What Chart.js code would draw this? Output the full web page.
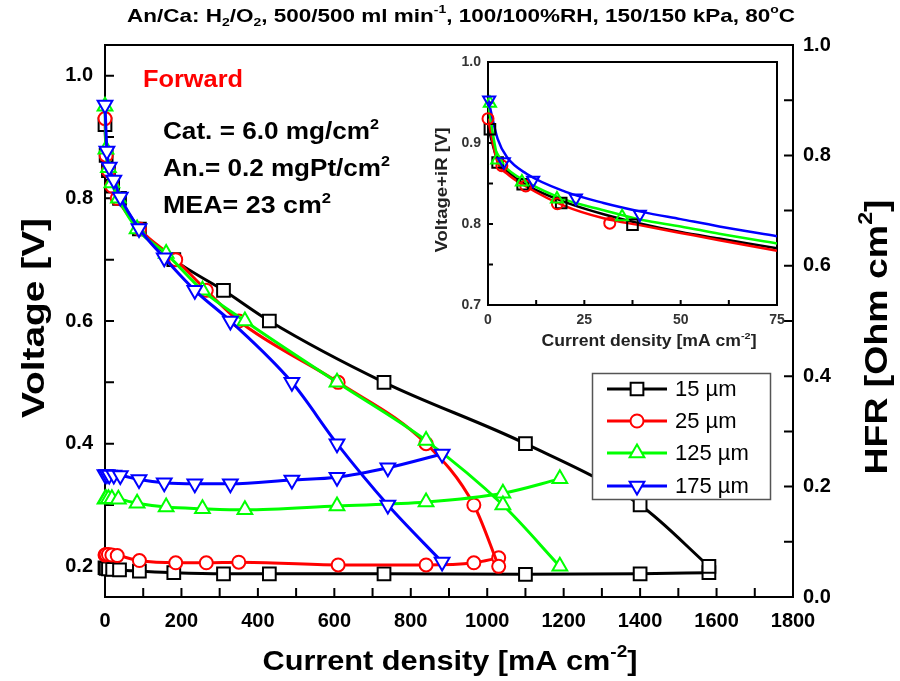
<!DOCTYPE html>
<html>
<head>
<meta charset="utf-8">
<script src="https://cdn.jsdelivr.net/npm/chart.js@4.4.0/dist/chart.umd.min.js"></script>
<style>
  body { margin: 0; background: #fff; }
  #wrap { position: relative; width: 900px; height: 681px; }
  #main { position: absolute; left: 0; top: 0; }
  #inset { position: absolute; left: 420px; top: 45px; }
</style>
</head>
<body>
<div id="wrap">
  <canvas id="main" width="900" height="681"></canvas>
  <canvas id="inset" width="372" height="310"></canvas>
</div>
<script>
// membrane thickness labels
const labels = ['15 µm', '25 µm', '125 µm', '175 µm'];

// main plot: current density [mA cm-2], voltage [V], HFR [Ohm cm2]
const current15 = [0, 3, 9, 20, 38, 90, 180, 310, 430, 730, 1100, 1400, 1580];
const voltage15 = [0.92, 0.87, 0.845, 0.82, 0.80, 0.75, 0.70, 0.65, 0.60, 0.50, 0.40, 0.30, 0.20];
const hfr15 = [0.053, 0.052, 0.051, 0.05, 0.049, 0.047, 0.044, 0.042, 0.042, 0.042, 0.041, 0.042, 0.044];

const current25 = [0, 3, 9, 18, 32, 90, 185, 265, 350, 610, 840, 965, 1030];
const voltage25 = [0.93, 0.87, 0.845, 0.82, 0.80, 0.75, 0.70, 0.65, 0.60, 0.50, 0.40, 0.30, 0.20];
const hfr25 = [0.076, 0.077, 0.077, 0.076, 0.075, 0.066, 0.062, 0.062, 0.063, 0.058, 0.058, 0.062, 0.071];

const current125 = [0, 2.5, 9, 18, 35, 84, 160, 255, 366, 607, 840, 1041, 1190];
const voltage125 = [0.95, 0.88, 0.85, 0.825, 0.80, 0.75, 0.71, 0.65, 0.60, 0.50, 0.405, 0.30, 0.20];
const hfr125 = [0.177, 0.178, 0.178, 0.178, 0.177, 0.170, 0.163, 0.160, 0.158, 0.165, 0.172, 0.188, 0.214];

const current175 = [0, 5, 11, 23, 40, 89, 155, 235, 328, 489, 607, 740, 882];
const voltage175 = [0.952, 0.877, 0.851, 0.83, 0.802, 0.751, 0.703, 0.65, 0.60, 0.50, 0.40, 0.30, 0.207];
const hfr175 = [0.222, 0.222, 0.221, 0.221, 0.220, 0.213, 0.207, 0.205, 0.205, 0.212, 0.217, 0.234, 0.259];

// inset: low current region, voltage + iR
const insetCur15 = [0.5, 2.5, 9, 19, 37.5];
const insetV15 = [0.917, 0.876, 0.849, 0.826, 0.799];
const insetCur25 = [0, 3.6, 9.8, 18, 31.6];
const insetV25 = [0.930, 0.872, 0.847, 0.825, 0.801];
const insetCur125 = [0.5, 2.4, 8.8, 17.9, 34.8];
const insetV125 = [0.949, 0.879, 0.852, 0.831, 0.809];
const insetCur175 = [0.3, 4.1, 11.7, 22.8, 39.4];
const insetV175 = [0.953, 0.877, 0.854, 0.832, 0.812];

// inset fit lines
const fitCur = [0, 2.5, 5, 10, 20, 30, 40, 50, 60, 75];
const fit15 = [0.92, 0.878, 0.865, 0.848, 0.827, 0.812, 0.800, 0.790, 0.782, 0.770];
const fit25 = [0.93, 0.876, 0.862, 0.846, 0.822, 0.807, 0.798, 0.789, 0.780, 0.767];
const fit125 = [0.948, 0.882, 0.868, 0.852, 0.830, 0.817, 0.805, 0.797, 0.788, 0.776];
const fit175 = [0.955, 0.905, 0.882, 0.862, 0.840, 0.826, 0.815, 0.806, 0.797, 0.785];

// tick values
const currentTicks = [0, 200, 400, 600, 800, 1000, 1200, 1400, 1600, 1800];
const currentMinor = [100, 300, 500, 700, 900, 1100, 1300, 1500, 1700];
const voltTicks = [0.2, 0.4, 0.6, 0.8, 1.0];
const voltMinor = [0.3, 0.5, 0.7, 0.9];
const hfrTicks = [0, 0.2, 0.4, 0.6, 0.8, 1.0];
const hfrMinor = [0.1, 0.3, 0.5, 0.7, 0.9];
const insetXTicks = [0, 25, 50, 75];
const insetXMinor = [12.5, 37.5, 62.5];
const insetYTicks = [0.7, 0.8, 0.9, 1.0];
const insetYMinor = [0.75, 0.85, 0.95];

const FONT = '"Liberation Sans", Arial, sans-serif';

function pts(xs, ys) {
  return xs.map((x, i) => ({ x: x, y: ys[i] }));
}

// look of each series
const looks = [
  { color: '#000000', style: 'rect', r: 9, rot: 0, ir: 7.5, order: 4 },
  { color: '#ff0000', style: 'circle', r: 6.5, rot: 0, ir: 5.5, order: 3 },
  { color: '#00ff00', style: 'triangle', r: 8.5, rot: 0, ir: 7, order: 2 },
  { color: '#0000ff', style: 'triangle', r: 8.5, rot: 180, ir: 7, order: 1 }
];

const mainSets = [
  [current15, voltage15, hfr15],
  [current25, voltage25, hfr25],
  [current125, voltage125, hfr125],
  [current175, voltage175, hfr175]
];
const insetSets = [
  [insetCur15, insetV15, fit15],
  [insetCur25, insetV25, fit25],
  [insetCur125, insetV125, fit125],
  [insetCur175, insetV175, fit175]
];

// text with sub / superscripts, squeezed or stretched to a width
function richText(ctx, parts, x, y, size, opt) {
  opt = opt || {};
  const weight = opt.weight || 'bold';
  let w = 0;
  const segs = parts.map(p => {
    const t = typeof p === 'string' ? p : p[0];
    const mode = typeof p === 'string' ? '' : p[1];
    const s = mode ? size * 0.62 : size;
    ctx.font = weight + ' ' + s + 'px ' + FONT;
    const sw = ctx.measureText(t).width;
    const seg = { t: t, mode: mode, s: s, dx: w };
    w += sw;
    return seg;
  });
  const k = opt.width ? opt.width / w : 1;
  ctx.save();
  ctx.translate(x, y);
  if (opt.rotate) ctx.rotate(opt.rotate);
  ctx.scale(k, 1);
  ctx.fillStyle = opt.color || '#000';
  ctx.textBaseline = 'middle';
  ctx.textAlign = 'left';
  const x0 = opt.align === 'left' ? 0 : -w / 2;
  segs.forEach(g => {
    ctx.font = weight + ' ' + g.s + 'px ' + FONT;
    const dy = g.mode === 'sup' ? -size * 0.36 : g.mode === 'sub' ? size * 0.3 : 0;
    ctx.fillText(g.t, x0 + g.dx, dy);
  });
  ctx.restore();
}

// box + inward ticks
function drawFrame(chart, len, lw, axes) {
  const ctx = chart.ctx;
  const a = chart.chartArea;
  ctx.save();
  ctx.strokeStyle = '#000';
  ctx.lineWidth = lw;
  ctx.strokeRect(a.left, a.top, a.right - a.left, a.bottom - a.top);
  ctx.beginPath();
  axes.forEach(ax => {
    const sc = chart.scales[ax.id];
    ax.ticks.concat(ax.minor).forEach(v => {
      const p = sc.getPixelForValue(v);
      if (ax.side === 'bottom') { ctx.moveTo(p, a.bottom); ctx.lineTo(p, a.bottom - len); }
      if (ax.side === 'left') { ctx.moveTo(a.left, p); ctx.lineTo(a.left + len, p); }
      if (ax.side === 'right') { ctx.moveTo(a.right, p); ctx.lineTo(a.right - len, p); }
    });
  });
  ctx.stroke();
  ctx.restore();
}

const mainDecor = {
  id: 'mainDecor',
  beforeDatasetsDraw(chart) {
    drawFrame(chart, 9, 2, [
      { id: 'x', side: 'bottom', ticks: currentTicks, minor: currentMinor },
      { id: 'y', side: 'left', ticks: voltTicks, minor: voltMinor },
      { id: 'y2', side: 'right', ticks: hfrTicks, minor: hfrMinor }
    ]);
  },
  afterDraw(chart) {
    const ctx = chart.ctx;
    richText(ctx, ['An/Ca: H', ['2', 'sub'], '/O', ['2', 'sub'], ', 500/500 ml min', ['-1', 'sup'],
      ', 100/100%RH, 150/150 kPa, 80', ['o', 'sup'], 'C'], 461, 17, 19, { width: 668 });
    richText(ctx, ['Forward'], 143, 80, 24, { width: 100, align: 'left', color: '#ff0000' });
    richText(ctx, ['Cat. = 6.0 mg/cm', ['2', 'sup']], 163, 133, 23, { width: 216, align: 'left' });
    richText(ctx, ['An.= 0.2 mgPt/cm', ['2', 'sup']], 163, 170, 23, { width: 227, align: 'left' });
    richText(ctx, ['MEA= 23 cm', ['2', 'sup']], 163, 207, 23, { width: 168, align: 'left' });
    richText(ctx, ['Current density [mA cm', ['-2', 'sup'], ']'], 450, 662, 28, { width: 375 });
    richText(ctx, ['Voltage [V]'], 35, 318, 32, { width: 200, rotate: -Math.PI / 2 });
    richText(ctx, ['HFR [Ohm cm', ['2', 'sup'], ']'], 878, 337, 32, { width: 275, rotate: -Math.PI / 2 });

    // legend
    ctx.save();
    ctx.fillStyle = '#fff';
    ctx.fillRect(592, 373, 178, 126);
    ctx.strokeStyle = '#555';
    ctx.lineWidth = 1.5;
    ctx.strokeRect(592.5, 373.5, 178, 126);
    const rows = [389, 421, 453, 486];
    labels.forEach((lab, i) => {
      const lk = looks[i];
      const y = rows[i];
      ctx.strokeStyle = lk.color;
      ctx.lineWidth = 3;
      ctx.beginPath();
      ctx.moveTo(607, y);
      ctx.lineTo(667, y);
      ctx.stroke();
      ctx.fillStyle = '#fff';
      ctx.lineWidth = 2;
      Chart.helpers.drawPoint(ctx, { pointStyle: lk.style, radius: lk.r, rotation: lk.rot, borderWidth: 2 }, 637, y);
      ctx.fillStyle = '#000';
      ctx.font = '22px ' + FONT;
      ctx.textBaseline = 'middle';
      ctx.textAlign = 'left';
      ctx.fillText(lab, 675, y + 1);
    });
    ctx.restore();
  }
};

const mainData = [];
mainSets.forEach((s, i) => {
  const lk = looks[i];
  const common = {
    borderColor: lk.color,
    backgroundColor: lk.color,
    pointBackgroundColor: '#fff',
    pointBorderColor: lk.color,
    pointStyle: lk.style,
    pointRadius: lk.r,
    pointRotation: lk.rot,
    pointBorderWidth: 2,
    borderWidth: 3,
    cubicInterpolationMode: 'monotone',
    clip: false,
    order: lk.order
  };
  mainData.push(Object.assign({ label: labels[i], data: pts(s[0], s[1]), yAxisID: 'y' }, common));
  mainData.push(Object.assign({ label: labels[i] + ' HFR', data: pts(s[0], s[2]), yAxisID: 'y2' }, common));
});

function tickFont(size) {
  return { family: FONT, size: size, weight: 'bold' };
}

new Chart(document.getElementById('main').getContext('2d'), {
  type: 'line',
  data: { datasets: mainData },
  options: {
    responsive: false,
    animation: false,
    devicePixelRatio: 1,
    layout: { padding: { top: 45, left: 0, right: 0, bottom: 0 } },
    plugins: { legend: { display: false }, tooltip: { enabled: false } },
    scales: {
      x: {
        type: 'linear', min: 0, max: 1800,
        afterFit(s) { s.height = 84; },
        afterBuildTicks(s) { s.ticks = currentTicks.map(v => ({ value: v })); },
        grid: { display: false, drawTicks: false },
        border: { display: false },
        ticks: { font: tickFont(20), color: '#000', padding: 12, maxRotation: 0, autoSkip: false, callback: v => String(v) }
      },
      y: {
        position: 'left', min: 0.15, max: 1.05,
        afterFit(s) { s.width = 105; },
        afterBuildTicks(s) { s.ticks = voltTicks.map(v => ({ value: v })); },
        grid: { display: false, drawTicks: false },
        border: { display: false },
        ticks: { font: tickFont(20), color: '#000', padding: 12, callback: v => v.toFixed(1) }
      },
      y2: {
        position: 'right', min: 0, max: 1,
        afterFit(s) { s.width = 107; },
        afterBuildTicks(s) { s.ticks = hfrTicks.map(v => ({ value: v })); },
        grid: { display: false, drawTicks: false },
        border: { display: false },
        ticks: { font: tickFont(20), color: '#000', padding: 10, callback: v => v.toFixed(1) }
      }
    }
  },
  plugins: [mainDecor]
});

// ---------- inset ----------
const insetDecor = {
  id: 'insetDecor',
  beforeDatasetsDraw(chart) {
    drawFrame(chart, 5, 2, [
      { id: 'x', side: 'bottom', ticks: insetXTicks, minor: insetXMinor },
      { id: 'y', side: 'left', ticks: insetYTicks, minor: insetYMinor }
    ]);
  },
  afterDraw(chart) {
    const ctx = chart.ctx;
    richText(ctx, ['Voltage+iR [V]'], 23, 145, 16, { width: 125, rotate: -Math.PI / 2, color: '#222' });
    richText(ctx, ['Current density [mA cm', ['-2', 'sup'], ']'], 229, 297, 16, { width: 215, color: '#222' });
  }
};

const insetData = [];
insetSets.forEach((s, i) => {
  const lk = looks[i];
  insetData.push({
    label: labels[i] + ' fit',
    data: pts(fitCur, s[2]),
    borderColor: lk.color,
    borderWidth: 2.5,
    pointRadius: 0,
    cubicInterpolationMode: 'monotone',
    order: lk.order + 4
  });
  insetData.push({
    label: labels[i],
    data: pts(s[0], s[1]),
    showLine: false,
    pointStyle: lk.style,
    pointRadius: lk.ir,
    pointRotation: lk.rot,
    pointBorderWidth: 2,
    pointBorderColor: lk.color,
    pointBackgroundColor: 'rgba(255,255,255,0)',
    clip: false,
    order: lk.order
  });
});

new Chart(document.getElementById('inset').getContext('2d'), {
  type: 'line',
  data: { datasets: insetData },
  options: {
    responsive: false,
    animation: false,
    devicePixelRatio: 1,
    layout: { padding: { top: 17, left: 0, right: 15, bottom: 0 } },
    plugins: { legend: { display: false }, tooltip: { enabled: false } },
    scales: {
      x: {
        type: 'linear', min: 0, max: 75,
        afterFit(s) { s.height = 50; },
        afterBuildTicks(s) { s.ticks = insetXTicks.map(v => ({ value: v })); },
        grid: { display: false, drawTicks: false },
        border: { display: false },
        ticks: { font: tickFont(14), color: '#333', padding: 7, maxRotation: 0, autoSkip: false, callback: v => String(v) }
      },
      y: {
        min: 0.7, max: 1.0,
        afterFit(s) { s.width = 68; },
        afterBuildTicks(s) { s.ticks = insetYTicks.map(v => ({ value: v })); },
        grid: { display: false, drawTicks: false },
        border: { display: false },
        ticks: { font: tickFont(14), color: '#333', padding: 7, callback: v => v.toFixed(1) }
      }
    }
  },
  plugins: [insetDecor]
});
</script>
</body>
</html>
